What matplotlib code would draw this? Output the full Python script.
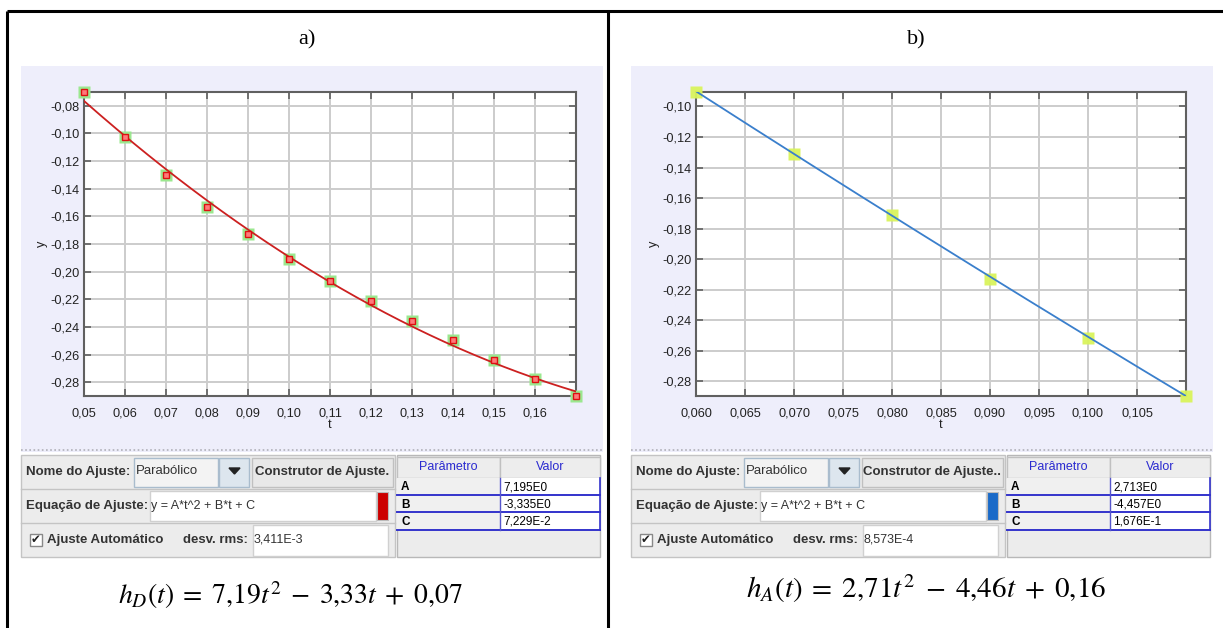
import matplotlib
matplotlib.use("Agg")
import matplotlib.pyplot as plt
import numpy as np
from matplotlib.patches import Rectangle, Polygon
from matplotlib.ticker import FuncFormatter

# ---------------- data ----------------
t_a = [0.05, 0.06, 0.07, 0.08, 0.09, 0.10, 0.11, 0.12, 0.13, 0.14, 0.15, 0.16, 0.17]
y_a = [-0.070, -0.1027, -0.130, -0.1534, -0.1728, -0.1907, -0.2068, -0.2211,
       -0.2358, -0.2496, -0.2636, -0.2778, -0.290]
params_a = [7.195, -3.335, 7.229e-2]          # A, B, C
param_txt_a = ["7,195E0", "-3,335E0", "7,229E-2"]
rms_a = "3,411E-3"
eq_a = r"$h_D(t)\;=\;7{,}19t^2\;-\;3{,}33t\;+\;0{,}07$"
xticks_a = [0.05, 0.06, 0.07, 0.08, 0.09, 0.10, 0.11, 0.12, 0.13, 0.14, 0.15, 0.16]
yticks_a = [-0.08, -0.10, -0.12, -0.14, -0.16, -0.18, -0.20, -0.22, -0.24, -0.26, -0.28]

t_b = [0.06, 0.07, 0.08, 0.09, 0.10, 0.11]
y_b = [-0.0905, -0.1311, -0.1713, -0.2132, -0.2518, -0.2898]
params_b = [2.713, -4.457, 1.676e-1]
param_txt_b = ["2,713E0", "-4,457E0", "1,676E-1"]
rms_b = "8,573E-4"
eq_b = r"$h_A(t)\;=\;2{,}71t^2\;-\;4{,}46t\;+\;0{,}16$"
xticks_b = [0.060, 0.065, 0.070, 0.075, 0.080, 0.085, 0.090, 0.095, 0.100, 0.105]
yticks_b = [-0.10, -0.12, -0.14, -0.16, -0.18, -0.20, -0.22, -0.24, -0.26, -0.28]

titles = ["a)", "b)"]
fit_name = "Parabólico"
fit_eq = "y = A*t^2 + B*t + C"
param_names = ["A", "B", "C"]

# ---------------- figure ----------------
W, H = 1223, 628
plt.rcParams['font.family'] = ['Liberation Sans', 'DejaVu Sans']
plt.rcParams['mathtext.fontset'] = 'stix'
fig = plt.figure(figsize=(W / 100, H / 100), dpi=100)
fig.patch.set_facecolor('white')

ov = fig.add_axes([0, 0, 1, 1], zorder=0)
ov.set_xlim(0, W)
ov.set_ylim(H, 0)
ov.axis('off')


def rect(x0, y0, x1, y1, fc, ec='none', lw=1.0, z=1):
    ov.add_patch(Rectangle((x0, y0), x1 - x0, y1 - y0, facecolor=fc,
                           edgecolor=ec, linewidth=lw, zorder=z))


def px_axes(x0, y0, x1, y1):
    return fig.add_axes([x0 / W, 1 - y1 / H, (x1 - x0) / W, (y1 - y0) / H], zorder=2)


# outer frame
ov.plot([7, W], [11, 11], color='black', lw=2.2, zorder=5, solid_capstyle='butt')
ov.plot([7, 7], [11, H], color='black', lw=2.2, zorder=5, solid_capstyle='butt')
ov.plot([608, 608], [11, H], color='black', lw=2.2, zorder=5, solid_capstyle='butt')


def panel(ox, tx, data_t, data_y, params, ptxt, rms, eq, xticks, yticks,
          ax_box, fmt, title, title_x, eq_y, eq_fs, swatch_color, mode, btn_txt):
    # lavender background
    rect(ox + 21, 66, ox + 603, 452, '#eeeefb', z=1)
    # dotted separator
    ov.plot([ox + 21, ox + 603], [450, 450], color='#b0b0b8', lw=1.2,
            linestyle=(0, (1, 1.5)), zorder=2)
    ov.text(title_x, 40, title, fontsize=16, family='Liberation Serif',
            ha='center', va='center', zorder=3)

    # --- plot ---
    ax = px_axes(*ax_box)
    ax.set_facecolor('white')
    xmin, xmax = min(data_t), max(data_t)
    ax.set_xlim(xmin, xmax)
    ax.set_ylim(min(data_y), max(data_y))
    ax.set_xticks(xticks)
    ax.set_yticks(yticks)
    ax.xaxis.set_major_formatter(FuncFormatter(lambda v, p: fmt[0].format(v).replace('.', ',')))
    ax.yaxis.set_major_formatter(FuncFormatter(lambda v, p: fmt[1].format(v).replace('.', ',')))
    ax.grid(True, color='#cccccc', lw=1.4)
    ax.set_axisbelow(True)
    ax.tick_params(direction='in', length=5, width=1.1, color='#555555',
                   top=True, right=True, labelsize=9.2, labelcolor='#222222')
    ax.tick_params(axis='x', pad=8)
    ax.tick_params(axis='y', pad=3)
    for s in ax.spines.values():
        s.set_color('#606060')
        s.set_linewidth(1.5)
    ax.set_xlabel('t', fontsize=9.2, labelpad=0, color='#222222')
    ax.set_ylabel('y', fontsize=9.2, labelpad=2, color='#222222')

    A, B, C = params
    tt = np.linspace(xmin, xmax, 300)
    if mode == 'a':
        ax.plot(data_t, data_y, 's', ms=9, color='#9be88f', mec='none',
                clip_on=False, zorder=3)
        ax.plot(tt, A * tt ** 2 + B * tt + C, color='#cc2020', lw=1.3, zorder=4)
        ax.plot(data_t, data_y, 's', ms=5, mfc='#ff7a7a', mec='#dd1010', mew=1.0,
                clip_on=False, zorder=5)
    else:
        ax.plot(data_t, data_y, 's', ms=8.5, color='#d9f45c', mec='none',
                clip_on=False, zorder=3, alpha=0.95)
        ax.plot(tt, A * tt ** 2 + B * tt + C, color='#3a7fcc', lw=1.3, zorder=4)

    # --- widgets ---
    tc = '#333333'
    fs = 9.5
    rect(ox + 21, 455, ox + 395, 557, '#ececec', ec='#c4c4c4', lw=1, z=2)
    ov.plot([ox + 21, ox + 395], [489, 489], color='#c4c4c4', lw=1, zorder=3)
    ov.plot([ox + 21, ox + 395], [523, 523], color='#c4c4c4', lw=1, zorder=3)
    # row 1
    ov.text(ox + 26, 472, 'Nome do Ajuste:', fontsize=fs, weight='bold', color=tc,
            va='center', zorder=4)
    rect(ox + 134, 458, ox + 218, 487, '#f3f3f3', ec='#a9bccd', lw=1, z=3)
    ov.text(ox + 136, 471, fit_name, fontsize=fs, color=tc, va='center', zorder=4)
    rect(ox + 219, 458, ox + 249, 487, '#dde6ee', ec='#a9bccd', lw=1, z=3)
    ov.add_patch(Polygon([[ox + 229, 468], [ox + 240, 468], [ox + 234.5, 474]],
                         closed=True, color='#222222', zorder=4))
    rect(ox + 252, 458, ox + 393, 487, '#e8e8e8', ec='#c0c0c0', lw=1, z=3)
    ov.text(ox + 322, 472, btn_txt, fontsize=fs, weight='bold', color=tc,
            va='center', ha='center', zorder=4)
    # row 2
    ov.text(ox + 26, 506, 'Equação de Ajuste:', fontsize=fs, weight='bold', color=tc,
            va='center', zorder=4)
    rect(ox + 150, 491, ox + 376, 521, 'white', ec='#d0d0d0', lw=1, z=3)
    ov.text(ox + 151, 506, fit_eq, fontsize=9, color=tc, va='center', zorder=4)
    rect(ox + 377, 492, ox + 388, 520, swatch_color, ec='#bbbbbb', lw=0.8, z=3)
    # row 3
    rect(ox + 30, 534, ox + 42, 546, 'white', ec='#888888', lw=1, z=3)
    ov.text(ox + 36, 540, '✔', fontsize=8.5, color='#222222', va='center', ha='center',
            family=['DejaVu Sans'], zorder=4)
    ov.text(ox + 47, 540, 'Ajuste Automático', fontsize=fs, weight='bold', color=tc,
            va='center', zorder=4)
    ov.text(ox + 183, 540, 'desv. rms:', fontsize=fs, weight='bold', color=tc,
            va='center', zorder=4)
    rect(ox + 253, 525, ox + 388, 556, 'white', ec='#d0d0d0', lw=1, z=3)
    ov.text(ox + 254, 540, rms, fontsize=9, color=tc, va='center', zorder=4)

    # table
    x0, xm, x1 = ox + 397, ox + 500, ox + 600
    rect(x0, 455, x1, 557, '#ececec', ec='#b8b8b8', lw=1, z=2)
    rect(x0, 457, xm, 478, '#ededed', ec='#c0c0c0', lw=1, z=3)
    rect(xm, 457, x1, 478, '#ededed', ec='#c0c0c0', lw=1, z=3)
    ov.text((x0 + xm) / 2, 467, 'Parâmetro', fontsize=9, color='#2a2ad0',
            ha='center', va='center', zorder=4)
    ov.text((xm + x1) / 2, 467, 'Valor', fontsize=9, color='#2a2ad0',
            ha='center', va='center', zorder=4)
    rows = [478, 495, 512, 530]
    for i, (nm, val) in enumerate(zip(param_names, ptxt)):
        r0, r1 = rows[i], rows[i + 1]
        rect(x0, r0, xm, r1, '#f0f0f0', z=3)
        rect(xm, r0, x1, r1, 'white', z=3)
        ov.text(x0 + 4, (r0 + r1) / 2 + 1, nm, fontsize=8.5, weight='bold',
                color='black', va='center', zorder=4)
        ov.text(xm + 3, (r0 + r1) / 2 + 1, val, fontsize=8.5, color='black',
                va='center', zorder=4)
        ov.plot([x0, x1], [r1, r1], color='#3333cc', lw=1.4, zorder=5)
    ov.plot([xm, xm], [478, 530], color='#5555cc', lw=1.0, zorder=5)
    ov.plot([x1, x1], [478, 530], color='#3333cc', lw=1.2, zorder=5)

    # equation
    ov.text(tx, eq_y, eq, fontsize=eq_fs, ha='center', va='center', zorder=4)


panel(0, 290, t_a, y_a, params_a, param_txt_a, rms_a, eq_a, xticks_a, yticks_a,
      (84, 92, 576, 396), ("{:.2f}", "{:.2f}"), titles[0], 307, 595, 20,
      '#cc0000', 'a', 'Construtor de Ajuste.')
panel(610, 926, t_b, y_b, params_b, param_txt_b, rms_b, eq_b, xticks_b, yticks_b,
      (696, 92, 1186, 396), ("{:.3f}", "{:.2f}"), titles[1], 916, 589, 21,
      '#1a6ac8', 'b', 'Construtor de Ajuste..')

fig.savefig('out.png', dpi=100, facecolor='white')
